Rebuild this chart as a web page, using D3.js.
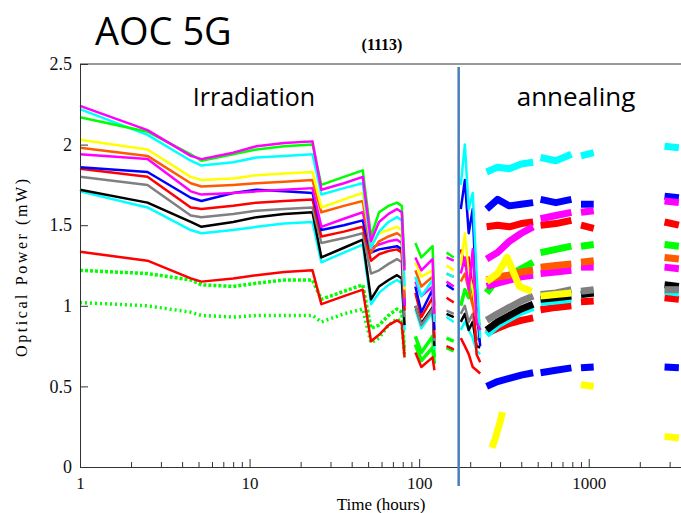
<!DOCTYPE html>
<html>
<head>
<meta charset="utf-8">
<script src="https://cdn.jsdelivr.net/npm/d3@7"></script>
<style>
    body { margin: 0; background: #fff; }
    svg { display: block; }
</style>
</head>
<body>
<div id="chart"></div>
<script>
// Each series: list of segments, each segment a list of [hours, mW]
const magenta = [
    [[1, 2.24], [2.5, 2.09], [4.5, 1.93], [5.2, 1.91], [8, 1.95], [11, 1.99], [16, 2.01], [23.5, 2.02], [26.5, 1.72], [36, 1.76], [46.5, 1.80], [52, 1.40], [58, 1.52], [66, 1.57], [74, 1.60], [79, 1.58], [82, 1.22]],
    [[95, 1.30], [103, 1.22], [120, 1.29], [123, 0.95]],
    [[145, 1.30], [160, 1.28]],
    [[176, 1.20], [186, 1.30], [196, 1.10], [207, 1.35], [218, 0.90], [229, 0.85]],
    [[250, 1.29], [290, 1.33], [340, 1.40], [400, 1.45], [470, 1.49]],
    [[520, 1.54], [640, 1.56], [790, 1.58]],
    [[900, 1.58], [1070, 1.59]],
    [[2800, 1.65], [3400, 1.64]]
];
const green = [
    [[1, 2.17], [2.5, 2.08], [4.5, 1.94], [5.2, 1.90], [8, 1.94], [11, 1.97], [16, 1.99], [23.5, 2.00], [26.5, 1.75], [36, 1.80], [46.5, 1.84], [52, 1.43], [58, 1.58], [66, 1.62], [74, 1.64], [79, 1.62], [82, 1.25]],
    [[95, 1.39], [103, 1.30], [120, 1.37], [123, 1.00]],
    [[145, 1.33], [160, 1.30]]
];
const cyan = [
    [[1, 2.22], [2.5, 2.06], [4.5, 1.90], [5.2, 1.87], [8, 1.89], [11, 1.92], [16, 1.93], [23.5, 1.94], [26.5, 1.69], [36, 1.73], [46.5, 1.76], [52, 1.36], [58, 1.46], [66, 1.52], [74, 1.55], [79, 1.53], [82, 1.12]],
    [[95, 1.18], [103, 1.06], [120, 1.16], [123, 0.90]],
    [[145, 1.20], [160, 1.18]],
    [[176, 1.75], [186, 2.00], [196, 1.60], [207, 1.70], [218, 1.20], [229, 0.80]],
    [[250, 1.83], [290, 1.86], [340, 1.85], [400, 1.88], [470, 1.89]],
    [[520, 1.92], [640, 1.90], [790, 1.94]],
    [[900, 1.93], [1070, 1.95]],
    [[2800, 1.99], [3400, 1.98]]
];
const yellow = [
    [[1, 2.03], [2.5, 1.97], [4.5, 1.80], [5.2, 1.78], [8, 1.79], [11, 1.81], [16, 1.82], [23.5, 1.83], [26.5, 1.61], [36, 1.66], [46.5, 1.70], [52, 1.38], [58, 1.45], [66, 1.47], [74, 1.49], [79, 1.47], [82, 1.10]],
    [[95, 1.27], [103, 1.18], [120, 1.22], [123, 0.95]],
    [[145, 1.25], [160, 1.22]],
    [[176, 1.25], [186, 1.45], [196, 1.20], [207, 1.10], [218, 0.95], [229, 0.90]],
    [[250, 1.15], [290, 1.20], [330, 1.30], [390, 1.12], [460, 1.09]],
    [[520, 1.06], [640, 1.07], [790, 1.08]],
    [[900, 0.51], [1070, 0.50]],
    [[2800, 0.19], [3400, 0.18]]
];
const orange = [
    [[1, 1.98], [2.5, 1.93], [4.5, 1.76], [5.2, 1.74], [8, 1.75], [11, 1.76], [16, 1.77], [23.5, 1.78], [26.5, 1.58], [36, 1.62], [46.5, 1.65], [52, 1.33], [58, 1.40], [66, 1.43], [74, 1.45], [79, 1.43], [82, 1.05]],
    [[95, 1.22], [103, 1.12], [120, 1.18], [123, 0.92]],
    [[145, 1.20], [160, 1.18]],
    [[176, 1.15], [186, 1.20], [196, 1.10], [207, 1.00], [218, 0.92], [229, 0.88]],
    [[250, 1.16], [290, 1.18], [340, 1.19], [400, 1.21], [470, 1.22]],
    [[520, 1.24], [640, 1.25], [790, 1.26]],
    [[900, 1.27], [1070, 1.28]],
    [[2800, 1.30], [3400, 1.29]]
];
const magenta2 = [
    [[1, 1.94], [2.5, 1.91], [4.5, 1.71], [5.2, 1.69], [8, 1.70], [11, 1.71], [16, 1.72], [23.5, 1.73], [26.5, 1.49], [36, 1.54], [46.5, 1.58], [52, 1.36], [58, 1.38], [66, 1.40], [74, 1.41], [79, 1.39], [82, 1.00]],
    [[95, 1.15], [103, 1.06], [120, 1.12], [123, 0.90]],
    [[145, 1.15], [160, 1.12]],
    [[250, 1.12], [290, 1.14], [340, 1.16], [400, 1.18], [470, 1.19]],
    [[520, 1.20], [640, 1.21], [790, 1.22]],
    [[900, 1.24], [1070, 1.24]],
    [[2800, 1.24], [3400, 1.23]]
];
const blue = [
    [[1, 1.86], [2.5, 1.83], [4.5, 1.67], [5.2, 1.65], [8, 1.70], [11, 1.72], [16, 1.71], [23.5, 1.70], [26.5, 1.47], [36, 1.50], [46.5, 1.53], [52, 1.33], [58, 1.35], [66, 1.36], [74, 1.37], [79, 1.35], [82, 1.00]],
    [[95, 1.12], [103, 0.96], [120, 1.10], [123, 0.85]],
    [[145, 1.13], [160, 1.10]],
    [[176, 1.60], [186, 1.78], [196, 1.45], [207, 1.60], [218, 1.00], [229, 0.75]],
    [[250, 1.60], [290, 1.66], [340, 1.62], [400, 1.63], [470, 1.64]],
    [[520, 1.66], [640, 1.64], [790, 1.66]],
    [[900, 1.63], [1070, 1.63]],
    [[2800, 1.68], [3400, 1.67]]
];
const red = [
    [[1, 1.85], [2.5, 1.80], [4.5, 1.61], [5.2, 1.60], [8, 1.62], [11, 1.64], [16, 1.65], [23.5, 1.66], [26.5, 1.43], [36, 1.46], [46.5, 1.49], [52, 1.28], [58, 1.32], [66, 1.34], [74, 1.35], [79, 1.33], [82, 0.97]],
    [[95, 1.08], [103, 0.93], [120, 1.05], [123, 0.80]],
    [[145, 1.05], [160, 1.02]],
    [[176, 1.35], [186, 1.25], [196, 1.30], [207, 1.10], [218, 0.70], [229, 0.65]],
    [[250, 1.49], [290, 1.50], [340, 1.49], [400, 1.51], [470, 1.52]],
    [[520, 1.50], [640, 1.51], [790, 1.53]],
    [[900, 1.50], [1070, 1.48]],
    [[2800, 1.52], [3400, 1.50]]
];
const gray = [
    [[1, 1.80], [2.5, 1.75], [4.5, 1.56], [5.2, 1.55], [8, 1.57], [11, 1.59], [16, 1.60], [23.5, 1.61], [26.5, 1.39], [36, 1.42], [46.5, 1.45], [52, 1.20], [58, 1.22], [66, 1.26], [74, 1.29], [79, 1.27], [82, 0.93]],
    [[95, 1.00], [103, 0.88], [120, 0.98], [123, 0.78]],
    [[145, 0.97], [160, 0.95]],
    [[176, 0.95], [186, 1.00], [196, 0.90], [207, 0.95], [218, 0.80], [229, 0.78]],
    [[250, 0.91], [290, 0.95], [340, 0.99], [400, 1.03], [470, 1.06]],
    [[520, 1.07], [640, 1.08], [790, 1.10]],
    [[900, 1.09], [1070, 1.10]],
    [[2800, 1.10], [3400, 1.10]]
];
const black = [
    [[1, 1.72], [2.5, 1.64], [4.5, 1.52], [5.2, 1.49], [8, 1.52], [11, 1.55], [16, 1.57], [23.5, 1.58], [26.5, 1.30], [36, 1.36], [46.5, 1.41], [52, 1.04], [58, 1.12], [66, 1.16], [74, 1.19], [79, 1.17], [82, 0.88]],
    [[95, 1.00], [103, 0.89], [120, 0.99], [123, 0.75]],
    [[145, 0.95], [160, 0.93]],
    [[176, 0.90], [186, 0.95], [196, 0.85], [207, 0.90], [218, 0.75], [229, 0.74]],
    [[250, 0.85], [290, 0.90], [340, 0.94], [400, 0.98], [470, 1.01]],
    [[520, 1.04], [640, 1.05], [790, 1.06]],
    [[900, 1.07], [1070, 1.08]],
    [[2800, 1.13], [3400, 1.12]]
];
const cyan2 = [
    [[1, 1.71], [2.5, 1.61], [4.5, 1.47], [5.2, 1.45], [8, 1.47], [11, 1.49], [16, 1.51], [23.5, 1.52], [26.5, 1.27], [36, 1.33], [46.5, 1.38], [52, 1.01], [58, 1.08], [66, 1.13], [74, 1.16], [79, 1.14], [82, 0.85]],
    [[95, 0.98], [103, 0.86], [120, 0.96], [123, 0.73]],
    [[145, 0.93], [160, 0.90]],
    [[176, 0.85], [186, 0.90], [196, 0.85], [207, 0.80], [218, 0.72], [229, 0.70]],
    [[250, 0.82], [290, 0.88], [340, 0.92], [400, 0.96], [470, 0.99]],
    [[520, 1.02], [640, 1.03], [790, 1.04]],
    [[900, 1.07], [1070, 1.08]],
    [[2800, 1.09], [3400, 1.08]]
];
const redLow = [
    [[1, 1.335], [2.5, 1.28], [4.5, 1.17], [5.2, 1.15], [8, 1.17], [11, 1.19], [16, 1.21], [23.5, 1.22], [26.5, 1.01], [36, 1.06], [46.5, 1.10], [52, 0.78], [58, 0.82], [66, 0.88], [74, 0.91], [79, 0.89], [82, 0.68]],
    [[95, 0.71], [103, 0.62], [120, 0.68], [123, 0.60]],
    [[145, 0.75], [160, 0.73]],
    [[176, 0.80], [186, 0.75], [196, 0.70], [207, 0.62], [218, 0.60], [229, 0.58]],
    [[250, 0.83], [290, 0.86], [340, 0.89], [400, 0.91], [470, 0.925]],
    [[520, 0.975], [640, 0.99], [790, 1.00]],
    [[900, 1.025], [1070, 1.03]],
    [[2800, 1.05], [3400, 1.04]]
];
const greenA = [
    [[1, 1.22], [2.5, 1.20], [4.5, 1.16], [5.2, 1.13], [8, 1.12], [11, 1.14], [16, 1.16], [23.5, 1.16], [26.5, 1.04], [36, 1.09], [46.5, 1.13], [52, 0.86], [58, 0.88], [66, 0.94], [74, 0.98], [79, 0.96], [82, 0.72]],
    [[95, 0.81], [103, 0.71], [120, 0.81], [123, 0.68]],
    [[145, 0.80], [160, 0.78]],
    [[176, 1.00], [186, 1.10], [196, 1.05], [207, 1.15], [218, 0.90], [229, 0.85]],
    [[250, 1.08], [290, 1.17], [340, 1.19], [400, 1.23], [470, 1.27]],
    [[520, 1.33], [640, 1.35], [790, 1.37]],
    [[900, 1.37], [1070, 1.38]],
    [[2800, 1.38], [3400, 1.37]]
];
const greenB = [
    [[1, 1.02], [2.5, 1.00], [4.5, 0.96], [5.2, 0.94], [8, 0.93], [11, 0.94], [16, 0.94], [23.5, 0.94], [26.5, 0.90], [36, 0.95], [46.5, 0.98], [52, 0.77], [58, 0.80], [66, 0.88], [74, 0.92], [79, 0.90], [82, 0.68]],
    [[95, 0.76], [103, 0.66], [120, 0.74], [123, 0.64]],
    [[145, 0.74], [160, 0.72]]
];
const blueLow = [
    [[250, 0.50], [290, 0.53], [340, 0.55], [400, 0.57], [470, 0.585]],
    [[520, 0.585], [640, 0.60], [790, 0.615]],
    [[900, 0.615], [1070, 0.62]],
    [[2800, 0.62], [3400, 0.615]]
];
const yellowLow = [
    [[268, 0.12], [280, 0.17], [300, 0.28], [310, 0.34]]
];

const seriesList = [greenB, greenA, redLow, cyan2, black, gray, red, blue, magenta2, orange, yellow, cyan, green, magenta, blueLow, yellowLow];
const seriesColors = ['#00ff00', '#00ff00', '#ff0000', '#00ffff', '#000000', '#808080', '#ff0000', '#0000ff', '#ff00ff', '#ff5a00', '#ffff00', '#00ffff', '#00ff00', '#ff00ff', '#0000ff', '#ffff00'];
// sparse scatter series get a dotted look
const seriesDash = ['2,3', '3,2', null, null, null, null, null, null, null, null, null, null, null, null, null, null];

const xTickValues = [1, 10, 100, 1000];
const yTickValues = [0, 0.5, 1, 1.5, 2, 2.5];
const annealStart = 171;

const margin = { top: 64, left: 80, right: 0, bottom: 46 };
const W = 681, H = 513;

const svg = d3.select('#chart').append('svg')
    .attr('width', W)
    .attr('height', H);

const xScale = d3.scaleLog()
    .domain([1, 3500])
    .range([margin.left, W - margin.right]);
const yScale = d3.scaleLinear()
    .domain([0, 2.5])
    .range([H - margin.bottom, margin.top]);

const line = d3.line()
    .x(d => xScale(d[0]))
    .y(d => yScale(d[1]));

// Data
seriesList.forEach((segs, i) => {
    svg.append('g')
        .selectAll('path')
        .data(segs)
        .join('path')
        .attr('d', line)
        .attr('fill', 'none')
        .attr('stroke', seriesColors[i])
        .attr('stroke-width', d => d[0][0] > 240 ? 7 : (seriesDash[i] ? 3.5 : 2.5))
        .attr('stroke-dasharray', d => d[0][0] < 90 ? seriesDash[i] : null)
        .attr('stroke-linejoin', 'round');
});

// Frame top line
svg.append('line')
    .attr('x1', margin.left).attr('x2', W)
    .attr('y1', margin.top).attr('y2', margin.top)
    .attr('stroke', '#333').attr('stroke-width', 1);

// X axis
const minorTicks = [];
for (let k = 0; k < 4; k++) {
    for (let m = 2; m <= 9; m++) {
        const v = m * Math.pow(10, k);
        if (v <= 3500) minorTicks.push(v);
    }
}
svg.append('g')
    .attr('transform', 'translate(0,' + yScale(0) + ')')
    .call(d3.axisBottom(xScale).tickValues(minorTicks).tickFormat('').tickSizeInner(-5).tickSizeOuter(0))
    .call(g => g.select('.domain').remove());
svg.append('g')
    .attr('class', 'x-axis')
    .attr('transform', 'translate(0,' + yScale(0) + ')')
    .call(d3.axisBottom(xScale)
        .tickValues(xTickValues)
        .tickFormat(d => d.toString())
        .tickSizeInner(-8)
        .tickSizeOuter(0)
        .tickPadding(10));

// Y axis
svg.append('g')
    .attr('transform', 'translate(' + margin.left + ',0)')
    .call(d3.axisLeft(yScale)
        .tickValues(yTickValues)
        .tickFormat(d => d.toString())
        .tickSizeInner(-8)
        .tickSizeOuter(0)
        .tickPadding(8));

svg.selectAll('.domain, .tick line').attr('stroke', '#333');
svg.selectAll('.tick text')
    .attr('font-family', 'Liberation Serif, serif')
    .attr('font-size', 18)
    .attr('fill', '#111');
svg.selectAll('.x-axis .tick text').attr('font-size', 17);

// Anneal marker
svg.append('line')
    .attr('x1', xScale(annealStart)).attr('x2', xScale(annealStart))
    .attr('y1', margin.top + 3).attr('y2', 486)
    .attr('stroke', '#4a7ebb').attr('stroke-width', 2.5);

// Text
svg.append('text')
    .attr('x', 95).attr('y', 45)
    .attr('font-family', 'Open Sans, sans-serif')
    .attr('font-size', 38)
    .text('AOC 5G');
svg.append('text')
    .attr('x', 382).attr('y', 50)
    .attr('text-anchor', 'middle')
    .attr('font-family', 'Liberation Serif, serif')
    .attr('font-weight', 'bold')
    .attr('font-size', 16)
    .text('(1113)');
svg.append('text')
    .attr('x', 254).attr('y', 106)
    .attr('text-anchor', 'middle')
    .attr('font-family', 'Open Sans, sans-serif')
    .attr('font-size', 25)
    .text('Irradiation');
svg.append('text')
    .attr('x', 576).attr('y', 106)
    .attr('text-anchor', 'middle')
    .attr('font-family', 'Open Sans, sans-serif')
    .attr('font-size', 26)
    .text('annealing');
svg.append('text')
    .attr('x', 381).attr('y', 510)
    .attr('text-anchor', 'middle')
    .attr('font-family', 'Liberation Serif, serif')
    .attr('font-size', 17)
    .text('Time (hours)');
svg.append('text')
    .attr('transform', 'translate(27,268) rotate(-90)')
    .attr('text-anchor', 'middle')
    .attr('font-family', 'Liberation Serif, serif')
    .attr('font-size', 16)
    .attr('textLength', 178)
    .attr('lengthAdjust', 'spacing')
    .text('Optical Power (mW)');
</script>
</body>
</html>
